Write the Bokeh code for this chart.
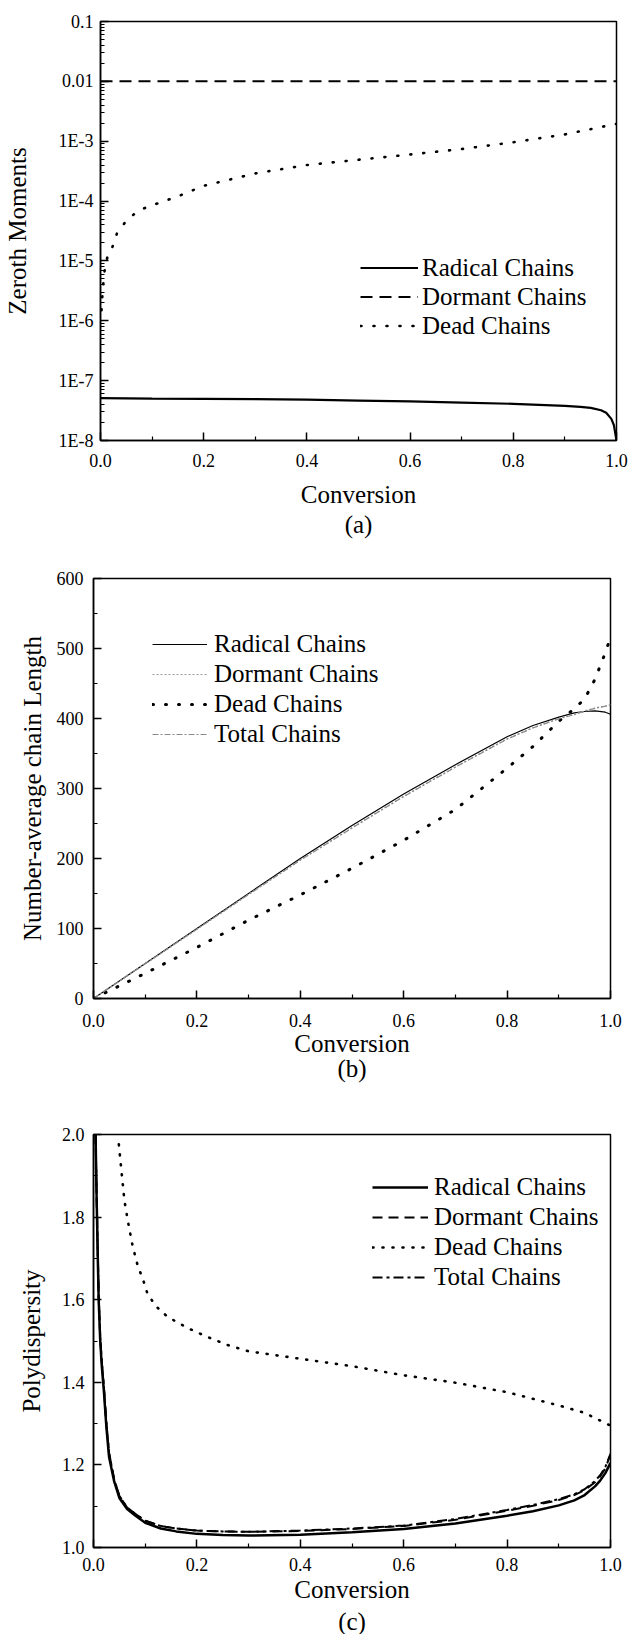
from bokeh.plotting import figure
from bokeh.models import (Range1d, FixedTicker, Legend, LegendItem, LinearAxis,
                          Title, CustomJSTickFormatter)
from bokeh.embed import file_html
from bokeh.resources import INLINE

FONT = "Liberation Serif"

# ---------------- data ----------------
x_ticks = [0.0, 0.2, 0.4, 0.6, 0.8, 1.0]
x_tick_labels = ["0.0", "0.2", "0.4", "0.6", "0.8", "1.0"]
x_minor = [0.1, 0.3, 0.5, 0.7, 0.9]

# panel (a): zeroth moments (log scale)
conv_a_radical = [0.0, 0.1, 0.2, 0.3, 0.4, 0.5, 0.6, 0.7, 0.8, 0.85, 0.9,
                  0.93, 0.95, 0.97, 0.98, 0.99, 0.995, 1.0]
zeroth_radical = [5.1e-8, 5.0e-8, 4.95e-8, 4.9e-8, 4.8e-8, 4.65e-8, 4.5e-8,
                  4.3e-8, 4.1e-8, 3.95e-8, 3.8e-8, 3.65e-8, 3.5e-8, 3.2e-8,
                  2.9e-8, 2.3e-8, 1.8e-8, 1.0e-8]
conv_a_dormant = [0.0, 1.0]
zeroth_dormant = [0.01, 0.01]
conv_a_dead = [0.002, 0.004, 0.007, 0.01, 0.015, 0.023, 0.032, 0.05, 0.074,
               0.1, 0.15, 0.2, 0.3, 0.4, 0.5, 0.6, 0.7, 0.8, 0.9, 1.0]
zeroth_dead = [1.5e-6, 3e-6, 6e-6, 9e-6, 1.3e-5, 1.7e-5, 2.9e-5, 4.7e-5,
               7.0e-5, 8.5e-5, 1.2e-4, 1.8e-4, 2.9e-4, 4.0e-4, 4.9e-4, 6.0e-4,
               7.4e-4, 9.6e-4, 1.3e-3, 1.95e-3]
y_ticks_a = [1e-8, 1e-7, 1e-6, 1e-5, 1e-4, 1e-3, 1e-2, 1e-1]
y_tick_labels_a = ["1E-8", "1E-7", "1E-6", "1E-5", "1E-4", "1E-3", "0.01", "0.1"]

# panel (b): number-average chain length
conv_b = [0.0, 0.05, 0.1, 0.2, 0.3, 0.4, 0.5, 0.6, 0.7, 0.8, 0.85, 0.9,
          0.93, 0.95, 0.97, 0.99, 1.0]
nacl_radical = [0, 25, 50, 100, 150, 200, 247, 292, 334, 374, 390, 402,
                408, 410, 411, 409, 406]
nacl_dormant = [0, 25, 49.5, 99, 149, 198, 244, 289, 331, 371, 387, 400,
                406, 411, 415, 418, 420]
nacl_total = [0, 25, 49.5, 99, 148.5, 197.5, 243.5, 288.5, 330.5, 370.5,
              386.5, 399.5, 405.5, 410.5, 414.5, 417.5, 419]
nacl_dead = [0, 18, 36, 73, 112, 148, 186, 226, 270, 329, 360, 396, 414,
             428, 456, 494, 516]
y_ticks_b = [0, 100, 200, 300, 400, 500, 600]
y_tick_labels_b = ["0", "100", "200", "300", "400", "500", "600"]
y_minor_b = [50, 150, 250, 350, 450, 550]

# panel (c): polydispersity
conv_c = [0.004, 0.006, 0.008, 0.01, 0.013, 0.016, 0.02, 0.025, 0.03, 0.04,
          0.05, 0.065, 0.08, 0.1, 0.13, 0.16, 0.2, 0.25, 0.3, 0.4, 0.5, 0.6,
          0.7, 0.8, 0.85, 0.9, 0.93, 0.95, 0.97, 0.98, 0.99, 1.0]
pd_radical = [2.0, 1.85, 1.72, 1.6, 1.5, 1.44, 1.38, 1.29, 1.22, 1.16, 1.12,
              1.093, 1.078, 1.06, 1.046, 1.039, 1.033, 1.03, 1.029, 1.031,
              1.037, 1.045, 1.058, 1.077, 1.088, 1.102, 1.114, 1.127, 1.148,
              1.162, 1.18, 1.205]
pd_dormant = [2.0, 1.86, 1.73, 1.61, 1.51, 1.45, 1.39, 1.30, 1.23, 1.165,
              1.125, 1.097, 1.082, 1.065, 1.052, 1.046, 1.041, 1.039, 1.038,
              1.040, 1.045, 1.052, 1.067, 1.089, 1.101, 1.115, 1.127, 1.139,
              1.158, 1.172, 1.192, 1.225]
pd_total = [2.0, 1.86, 1.73, 1.61, 1.51, 1.45, 1.39, 1.30, 1.23, 1.165,
            1.125, 1.097, 1.082, 1.065, 1.052, 1.046, 1.041, 1.039, 1.038,
            1.041, 1.046, 1.053, 1.069, 1.091, 1.103, 1.117, 1.129, 1.141,
            1.161, 1.175, 1.195, 1.227]
conv_c_dead = [0.049, 0.055, 0.06, 0.068, 0.076, 0.085, 0.097, 0.104, 0.12,
               0.142, 0.165, 0.188, 0.22, 0.26, 0.3, 0.4, 0.5, 0.6, 0.7, 0.8,
               0.9, 0.95, 1.0]
pd_dead = [1.976, 1.9, 1.838, 1.78, 1.728, 1.685, 1.644, 1.616, 1.585, 1.56,
           1.543, 1.528, 1.51, 1.49, 1.475, 1.457, 1.439, 1.417, 1.399, 1.376,
           1.344, 1.326, 1.295]
y_ticks_c = [1.0, 1.2, 1.4, 1.6, 1.8, 2.0]
y_tick_labels_c = ["1.0", "1.2", "1.4", "1.6", "1.8", "2.0"]
y_minor_c = [1.1, 1.3, 1.5, 1.7, 1.9]

legend_labels_a = ["Radical Chains", "Dormant Chains", "Dead Chains"]
legend_labels = ["Radical Chains", "Dormant Chains", "Dead Chains", "Total Chains"]
captions = ["(a)", "(b)", "(c)"]


# ---------------- helpers ----------------
def formatter(vals, labs, log=False):
    return CustomJSTickFormatter(args=dict(vals=vals, labs=labs, lg=log), code="""
        let best = 0, bd = Infinity;
        for (let i = 0; i < vals.length; i++) {
            const d = lg ? Math.abs(Math.log10(vals[i]) - Math.log10(tick))
                         : Math.abs(vals[i] - tick);
            if (d < bd) { bd = d; best = i; }
        }
        return labs[best];
    """)


def make_fig(height, top, bottom, left, right, y_range, y_type="linear"):
    p = figure(width=629, height=height, x_range=Range1d(0, 1), y_range=y_range,
               y_axis_type=y_type, output_backend="svg", toolbar_location=None,
               min_border_top=top, min_border_bottom=bottom,
               min_border_left=left, min_border_right=right)
    p.grid.visible = False
    p.outline_line_color = "black"
    p.outline_line_width = 1.5
    p.outline_line_alpha = 1.0
    p.background_fill_color = "white"
    p.border_fill_color = "white"
    for ax in (p.xaxis[0], p.yaxis[0]):
        ax.axis_line_width = 1.5
        ax.axis_line_color = "black"
        ax.major_tick_in = 8
        ax.major_tick_out = 0
        ax.minor_tick_in = 4
        ax.minor_tick_out = 0
        ax.major_tick_line_width = 1.5
        ax.minor_tick_line_width = 1.2
        ax.major_tick_line_color = "black"
        ax.minor_tick_line_color = "black"
        ax.major_label_text_font = FONT
        ax.major_label_text_font_size = "18px"
        ax.major_label_text_color = "black"
        ax.axis_label_text_font = FONT
        ax.axis_label_text_font_size = "25px"
        ax.axis_label_text_font_style = "normal"
        ax.axis_label_text_color = "black"
    p.xaxis[0].ticker = FixedTicker(ticks=x_ticks, minor_ticks=x_minor)
    p.xaxis[0].formatter = formatter(x_ticks, x_tick_labels)
    p.xaxis[0].axis_label = "Conversion"
    return p


def add_legend(p, items, loc, glyph_width, pitch, standoff):
    leg = Legend(items=[LegendItem(label=lab, renderers=[r]) for lab, r in items],
                 location=loc, glyph_width=glyph_width, glyph_height=pitch,
                 label_height=pitch, spacing=0, padding=0, margin=0,
                 label_standoff=standoff, border_line_alpha=0,
                 background_fill_alpha=0, label_text_font=FONT,
                 label_text_font_size="25px", label_text_color="black")
    p.add_layout(leg)


def add_caption_axis(p, text, standoff):
    # an empty extra axis below the x axis carries the panel caption
    cap = LinearAxis(ticker=FixedTicker(ticks=[]), axis_label=text,
                     axis_line_color=None, major_tick_line_color=None,
                     minor_tick_line_color=None, major_tick_in=0,
                     major_tick_out=0, minor_tick_in=0, minor_tick_out=0,
                     major_label_standoff=0, axis_label_standoff=standoff,
                     axis_label_text_font=FONT, axis_label_text_font_size="25px",
                     axis_label_text_font_style="normal",
                     axis_label_text_color="black")
    p.add_layout(cap, "below")


def add_caption_title(p, text):
    p.add_layout(Title(text=text, align="center", text_font=FONT,
                       text_font_size="25px", text_font_style="normal",
                       text_color="black", standoff=0), "below")


# ---------------- panel (a) ----------------
pa = make_fig(542, 21, 102, 100, 13, Range1d(1e-8, 0.1), y_type="log")
pa.yaxis[0].ticker = FixedTicker(
    ticks=y_ticks_a,
    minor_ticks=[m * 10.0 ** e for e in range(-8, -1) for m in range(2, 10)])
pa.yaxis[0].formatter = formatter(y_ticks_a, y_tick_labels_a, log=True)
pa.yaxis[0].axis_label = "Zeroth Moments"
pa.yaxis[0].major_label_standoff = 7
pa.yaxis[0].axis_label_standoff = 25
pa.xaxis[0].major_label_standoff = 13
pa.xaxis[0].axis_label_standoff = 11
ra1 = pa.line(conv_a_radical, zeroth_radical, line_color="black", line_width=2.2)
ra2 = pa.line(conv_a_dormant, zeroth_dormant, line_color="black", line_width=2,
              line_dash="12 7")
ra3 = pa.line(conv_a_dead, zeroth_dead, line_color="black", line_width=2.6,
              line_dash="1 12", line_cap="round")
add_legend(pa, list(zip(legend_labels_a, [ra1, ra2, ra3])), (260, 100), 58, 29, 4)
add_caption_axis(pa, captions[0], 0)

# ---------------- panel (b) ----------------
pb = make_fig(547, 36, 91, 93, 19, Range1d(0, 600))
pb.yaxis[0].ticker = FixedTicker(ticks=y_ticks_b, minor_ticks=y_minor_b)
pb.yaxis[0].formatter = formatter(y_ticks_b, y_tick_labels_b)
pb.yaxis[0].axis_label = "Number-average chain Length"
pb.yaxis[0].major_label_standoff = 10
pb.yaxis[0].axis_label_standoff = 8
pb.xaxis[0].major_label_standoff = 15
pb.xaxis[0].axis_label_standoff = 0
rb1 = pb.line(conv_b, nacl_radical, line_color="black", line_width=1.2)
rb2 = pb.line(conv_b, nacl_dormant, line_color="#9a9a9a", line_width=1.2,
              line_dash="2 2")
rb3 = pb.line(conv_b, nacl_dead, line_color="black", line_width=3,
              line_dash="1 12", line_cap="round")
rb4 = pb.line(conv_b, nacl_total, line_color="#8a8a8a", line_width=1.2,
              line_dash="6 2 2 2")
add_legend(pb, list(zip(legend_labels, [rb1, rb2, rb3, rb4])), (59, 249), 55, 30, 7)
add_caption_axis(pb, captions[1], -5)

# ---------------- panel (c) ----------------
pc = make_fig(545, 45, 81, 93, 19, Range1d(1.0, 2.0))
pc.yaxis[0].ticker = FixedTicker(ticks=y_ticks_c, minor_ticks=y_minor_c)
pc.yaxis[0].formatter = formatter(y_ticks_c, y_tick_labels_c)
pc.yaxis[0].axis_label = "Polydispersity"
pc.yaxis[0].major_label_standoff = 9
pc.yaxis[0].axis_label_standoff = 14
pc.xaxis[0].major_label_standoff = 10
pc.xaxis[0].axis_label_standoff = 2
rc1 = pc.line(conv_c, pd_radical, line_color="black", line_width=2.5)
rc2 = pc.line(conv_c, pd_dormant, line_color="black", line_width=2,
              line_dash="10 6")
rc3 = pc.line(conv_c_dead, pd_dead, line_color="black", line_width=2.6,
              line_dash="1 9", line_cap="round")
rc4 = pc.line(conv_c, pd_total, line_color="black", line_width=2,
              line_dash="10 4 3 4")
add_legend(pc, list(zip(legend_labels, [rc1, rc2, rc3, rc4])), (279, 255), 56, 30, 6)
add_caption_title(pc, captions[2])

# three independent roots stacked on the page (no cross-panel frame alignment)
open("out.html", "w").write(file_html([pa, pb, pc], INLINE))
